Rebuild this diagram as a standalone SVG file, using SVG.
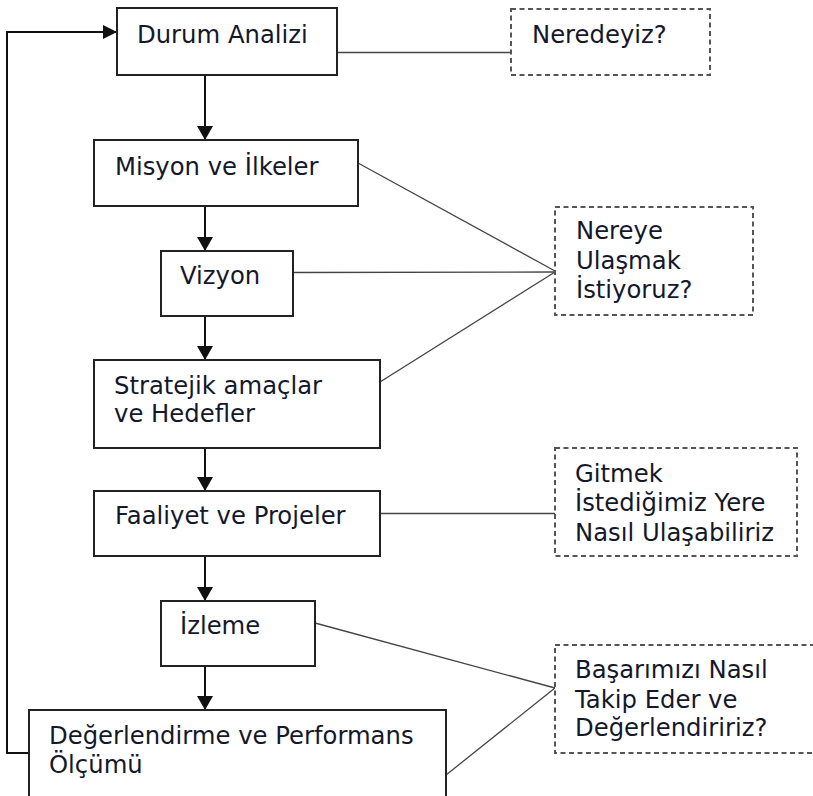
<svg xmlns="http://www.w3.org/2000/svg" width="813" height="796" viewBox="0 0 813 796">
<defs>
<style>
.box{fill:#fff;stroke:#222;stroke-width:2}
.q{fill:#fff;stroke:#555;stroke-width:2;stroke-dasharray:5 3.5}
.t{font-family:"DejaVu Sans",Verdana,sans-serif;font-size:24.3px;fill:#14182a}
.flow{fill:none;stroke:#111;stroke-width:2}
.thin{fill:none;stroke:#444;stroke-width:1.3}
</style>
<marker id="ah" markerWidth="16" markerHeight="14" refX="14" refY="7" orient="auto" markerUnits="userSpaceOnUse">
<path d="M0,0 L14,7 L0,14 Z" fill="#111"/>
</marker>
<marker id="ad" markerWidth="16" markerHeight="16" refX="14" refY="8" orient="auto" markerUnits="userSpaceOnUse">
<path d="M0,0 L14,8 L0,16 Z" fill="#111"/>
</marker>
</defs>
<rect width="813" height="796" fill="#fff"/>
<g id="connectors">
<line class="flow" x1="205" y1="75" x2="205" y2="140" marker-end="url(#ad)"/>
<line class="flow" x1="205" y1="206" x2="205" y2="251" marker-end="url(#ad)"/>
<line class="flow" x1="205" y1="316" x2="205" y2="360" marker-end="url(#ad)"/>
<line class="flow" x1="205" y1="448" x2="205" y2="491" marker-end="url(#ad)"/>
<line class="flow" x1="205" y1="556" x2="205" y2="601" marker-end="url(#ad)"/>
<line class="flow" x1="205" y1="666" x2="205" y2="710" marker-end="url(#ad)"/>
<polyline class="flow" points="29,753 7,753 7,32 117,32" marker-end="url(#ah)"/>
<line class="thin" x1="337" y1="52.5" x2="511" y2="52.5"/>
<line class="thin" x1="358" y1="163" x2="555" y2="271"/>
<line class="thin" x1="293" y1="272.5" x2="555" y2="272"/>
<line class="thin" x1="380" y1="382" x2="555" y2="272"/>
<line class="thin" x1="380" y1="513.5" x2="555" y2="513.5"/>
<line class="thin" x1="315" y1="623" x2="555" y2="688"/>
<line class="thin" x1="446" y1="775" x2="555" y2="688"/>
</g>
<g id="durum"><rect class="box" x="117" y="8" width="220" height="67"/><text class="t" x="137" y="43">Durum Analizi</text></g>
<g id="misyon"><rect class="box" x="94" y="140" width="264" height="66"/><text class="t" x="115" y="175">Misyon ve İlkeler</text></g>
<g id="vizyon"><rect class="box" x="161" y="251" width="132" height="65"/><text class="t" x="180" y="284">Vizyon</text></g>
<g id="stratejik"><rect class="box" x="94" y="360" width="286" height="88"/><text class="t" x="114" y="394">Stratejik amaçlar</text><text class="t" x="114" y="422">ve Hedefler</text></g>
<g id="faaliyet"><rect class="box" x="94" y="491" width="286" height="65"/><text class="t" x="115" y="524">Faaliyet ve Projeler</text></g>
<g id="izleme"><rect class="box" x="161" y="601" width="154" height="65"/><text class="t" x="180" y="634">İzleme</text></g>
<g id="degerlendirme"><rect class="box" x="29" y="710" width="417" height="110"/><text class="t" x="49" y="744">Değerlendirme ve Performans</text><text class="t" x="49" y="773">Ölçümü</text></g>
<g id="neredeyiz"><rect class="q" x="511" y="9" width="199" height="66"/><text class="t" x="532" y="43">Neredeyiz?</text></g>
<g id="nereye"><rect class="q" x="555" y="207" width="198" height="108"/><text class="t" x="576" y="239">Nereye</text><text class="t" x="576" y="269">Ulaşmak</text><text class="t" x="576" y="298">İstiyoruz?</text></g>
<g id="gitmek"><rect class="q" x="555" y="448" width="242" height="108"/><text class="t" x="575" y="482">Gitmek</text><text class="t" x="575" y="511">İstediğimiz Yere</text><text class="t" x="575" y="541">Nasıl Ulaşabiliriz</text></g>
<g id="basarimizi"><rect class="q" x="555" y="645" width="270" height="108"/><text class="t" x="575" y="678">Başarımızı Nasıl</text><text class="t" x="575" y="708">Takip Eder ve</text><text class="t" x="575" y="736">Değerlendiririz?</text></g>
</svg>
